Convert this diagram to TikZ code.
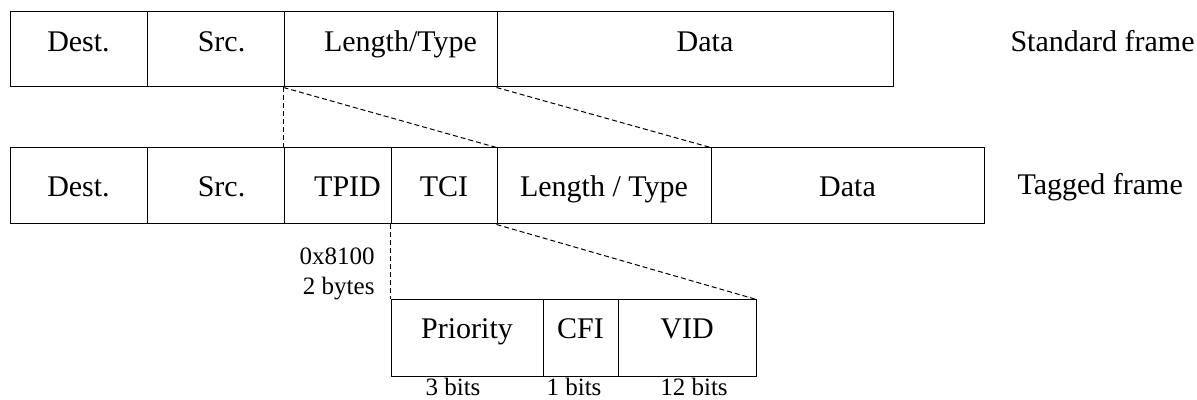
\documentclass[tikz,border=0pt]{standalone}
\usepackage{fontspec}
\setmainfont{Liberation Serif}

\begin{document}
\begin{tikzpicture}[
  x=1pt, y=1pt, line width=0.5pt, font=\fontsize{15}{18}\selectfont,
  field/.style={draw,rectangle,inner sep=0pt,minimum height=38pt,text depth=4pt},
  std/.style={field,minimum height=37.5pt,text height=6.5pt},
  tag/.style={field,text height=15pt},
  tci/.style={field,text height=4pt},
  link/.style={dash pattern=on 2.5pt off 1.5pt},
  note/.style={inner sep=0pt,font=\fontsize{12.5}{15}\selectfont}
]
  \useasboundingbox (0,0) rectangle (598.5,-200);
  % standard frame
  \node[std,minimum width=68.5pt] (s1) at (39.25,-24.75) {Dest.};
  \node[std,minimum width=68.5pt] (s2) at (107.75,-24.75) {\hspace*{6pt}Src.};
  \node[std,minimum width=106.5pt] (s3) at (195.25,-24.75) {\hspace*{10pt}Length/Type};
  \node[std,minimum width=198pt] (s4) at (347.5,-24.75) {\hspace*{10pt}Data};
  \node[inner sep=0pt,anchor=base west] (stdname) at (505,-26) {Standard frame};
  % tagged frame
  \node[tag,minimum width=68.5pt] (t1) at (39.25,-93) {Dest.};
  \node[tag,minimum width=68.5pt] (t2) at (107.75,-93) {\hspace*{6pt}Src.};
  \node[tag,minimum width=53.5pt] (t3) at (168.75,-93) {\hspace*{10pt}TPID};
  \node[tag,minimum width=53pt] (t4) at (222,-93) {TCI};
  \node[tag,minimum width=107pt] (t5) at (302,-93) {Length / Type};
  \node[tag,minimum width=136.5pt] (t6) at (423.75,-93) {Data};
  \node[inner sep=0pt,anchor=base west] (tagname) at (508.5,-97.5) {Tagged frame};
  \node[note,align=right,anchor=north east] (tpid) at (187.5,-123.5) {0x8100\\2 bytes};
  % tag control information
  \node[tci,minimum width=76pt] (c1) at (233.5,-169) {Priority};
  \node[tci,minimum width=37.5pt] (c2) at (290.25,-169) {CFI};
  \node[tci,minimum width=69pt] (c3) at (343.5,-169) {VID};
  \node[note,anchor=base] (b1) at (226.5,-197.5) {3 bits};
  \node[note,anchor=base] (b2) at (287,-197.5) {1 bits};
  \node[note,anchor=base] (b3) at (347,-197.5) {12 bits};
  % dashed links
  \draw[link] (s3.south west) -- (t3.north west);
  \draw[link] (s3.south west) -- (t5.north west);
  \draw[link] (s4.south west) -- (t6.north west);
  \draw[link] (t4.south west) -- (c1.north west);
  \draw[link] (t5.south west) -- (c3.north east);
\end{tikzpicture}
\end{document}
